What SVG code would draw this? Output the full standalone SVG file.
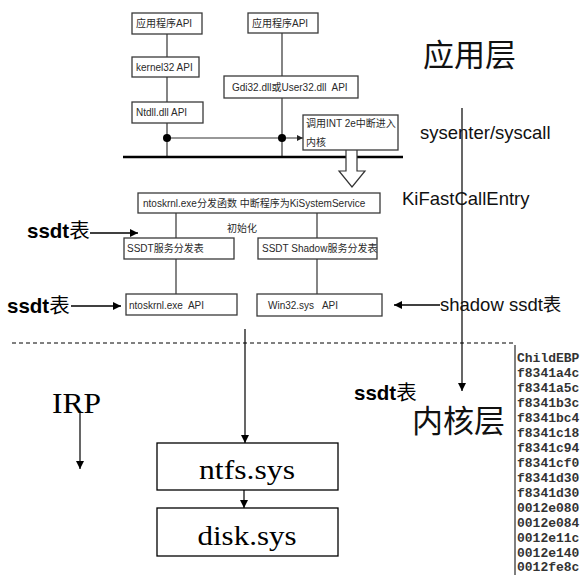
<svg xmlns="http://www.w3.org/2000/svg" width="583" height="575" viewBox="0 0 583 575">
<defs>
<marker id="ah" viewBox="0 0 10 10" refX="10" refY="5" markerWidth="8" markerHeight="8" markerUnits="userSpaceOnUse" orient="auto"><path d="M0,0 L10,5 L0,10 z" fill="#000"/></marker>
<marker id="ahs" viewBox="0 0 10 10" refX="10" refY="5" markerWidth="6" markerHeight="6" markerUnits="userSpaceOnUse" orient="auto"><path d="M0,0 L10,5 L0,10 z" fill="#222"/></marker>
</defs>
<style>
.bx{fill:#fff;stroke:#3a3a3a;stroke-width:1.3}
.st{font-family:"Liberation Sans","Noto Sans CJK SC",sans-serif;font-size:10px;fill:#2a2a2a}
.ln{stroke:#333;stroke-width:1.2;fill:none}
.big{font-family:"Noto Sans CJK SC",sans-serif;font-size:31px;fill:#111}
.lab{font-family:"Liberation Sans","Noto Sans CJK SC",sans-serif;font-size:18.5px;fill:#111}
.bold{font-family:"Liberation Sans","Noto Sans CJK SC",sans-serif;font-size:20.5px;font-weight:bold;fill:#000}
.nb{font-weight:normal}
.ser{font-family:"Liberation Serif",serif;fill:#000}
.mono{font-family:"Liberation Mono",monospace;font-size:13px;font-weight:bold;fill:#333}
</style>
<rect width="583" height="575" fill="#fff"/>

<g id="connectors">
<line class="ln" x1="167" y1="34" x2="167" y2="57"/>
<line class="ln" x1="167" y1="77" x2="167" y2="102"/>
<line class="ln" x1="167" y1="123" x2="167" y2="157"/>
<line class="ln" x1="282" y1="33" x2="282" y2="76"/>
<line class="ln" x1="282" y1="98" x2="282" y2="157"/>
<line class="ln" x1="167" y1="138" x2="303" y2="138" marker-end="url(#ahs)"/>
<circle cx="167" cy="138" r="4" fill="#000"/>
<circle cx="282" cy="138" r="4" fill="#000"/>
<line x1="123" y1="157" x2="403" y2="157" stroke="#000" stroke-width="2.5"/>
<path d="M346,150 L346,171 L339,171 L352,187 L365,171 L357,171 L357,150" fill="#fff" stroke="#333" stroke-width="1.2"/>
<line class="ln" x1="176" y1="213" x2="176" y2="238"/>
<line class="ln" x1="317" y1="213" x2="317" y2="238"/>
<line class="ln" x1="176" y1="259" x2="176" y2="294"/>
<line class="ln" x1="317" y1="259" x2="317" y2="294"/>
<line x1="90" y1="233" x2="138" y2="233" stroke="#000" stroke-width="1.3" marker-end="url(#ah)"/>
<line x1="71" y1="306" x2="121" y2="306" stroke="#000" stroke-width="1.3" marker-end="url(#ah)"/>
<line x1="440" y1="305" x2="394" y2="305" stroke="#000" stroke-width="1.3" marker-end="url(#ah)"/>
<line x1="462" y1="108" x2="462" y2="391" stroke="#000" stroke-width="1.2" marker-end="url(#ah)"/>
<line x1="12" y1="343" x2="515" y2="343" stroke="#000" stroke-width="1" stroke-dasharray="4,3"/>
<line x1="245" y1="329" x2="245" y2="443" stroke="#000" stroke-width="1.2" marker-end="url(#ah)"/>
<line x1="244" y1="490" x2="244" y2="508" stroke="#000" stroke-width="1.2" marker-end="url(#ah)"/>
<line x1="80" y1="412" x2="80" y2="469" stroke="#000" stroke-width="1.2" marker-end="url(#ah)"/>
</g>

<g id="app-api-1"><rect class="bx" x="132" y="13" width="70" height="21"/><text class="st" x="136" y="27">应用程序API</text></g>
<g id="kernel32"><rect class="bx" x="132" y="57" width="67" height="20"/><text class="st" x="136" y="71">kernel32 API</text></g>
<g id="ntdll"><rect class="bx" x="132" y="102" width="71" height="21"/><text class="st" x="136" y="116">Ntdll.dll API</text></g>
<g id="app-api-2"><rect class="bx" x="248" y="13" width="70" height="20"/><text class="st" x="252" y="27">应用程序API</text></g>
<g id="gdi32"><rect class="bx" x="224" y="76" width="134" height="22"/><text class="st" x="232" y="91" xml:space="preserve">Gdi32.dll或User32.dll  API</text></g>
<g id="int2e"><rect class="bx" x="303" y="115" width="95" height="35"/><text class="st" x="306" y="127">调用INT 2e中断进入</text><text class="st" x="306" y="146">内核</text></g>
<g id="ntoskrnl-dispatch"><rect class="bx" x="138" y="193" width="242" height="20"/><text class="st" x="143" y="207">ntoskrnl.exe分发函数 中断程序为KiSystemService</text></g>
<text class="st" x="242" y="232" text-anchor="middle" font-size="9">初始化</text>
<g id="ssdt"><rect class="bx" x="124" y="238" width="110" height="21"/><text class="st" x="127" y="252">SSDT服务分发表</text></g>
<g id="ssdt-shadow"><rect class="bx" x="258" y="238" width="119" height="21"/><text class="st" x="262" y="252">SSDT Shadow服务分发表</text></g>
<g id="ntoskrnl-api"><rect class="bx" x="126" y="294" width="111" height="21"/><text class="st" x="129" y="309" font-size="9.5" xml:space="preserve">ntoskrnl.exe  API</text></g>
<g id="win32"><rect class="bx" x="257" y="294" width="125" height="22"/><text class="st" x="268" y="309" font-size="9.5" xml:space="preserve">Win32.sys   API</text></g>
<g id="ntfs"><rect x="157" y="443" width="181" height="47" fill="#fff" stroke="#000" stroke-width="1.3"/><text class="ser" x="247" y="479" font-size="27" text-anchor="middle" textLength="96" lengthAdjust="spacingAndGlyphs">ntfs.sys</text></g>
<g id="disk"><rect x="157" y="508" width="181" height="48" fill="#fff" stroke="#000" stroke-width="1.3"/><text class="ser" x="247" y="545" font-size="27" text-anchor="middle" textLength="99" lengthAdjust="spacingAndGlyphs">disk.sys</text></g>

<text class="big" x="423" y="66">应用层</text>
<text class="big" x="412" y="432">内核层</text>
<text class="lab" x="420" y="139">sysenter/syscall</text>
<text class="lab" x="402" y="205">KiFastCallEntry</text>
<text class="lab" x="440" y="311">shadow ssdt表</text>
<text class="bold" x="27" y="238">ssdt<tspan class="nb">表</tspan></text>
<text class="bold" x="7" y="313">ssdt<tspan class="nb">表</tspan></text>
<text class="bold" x="354" y="400">ssdt<tspan class="nb">表</tspan></text>
<text class="ser" x="52" y="413" font-size="30" textLength="49" lengthAdjust="spacingAndGlyphs">IRP</text>

<g id="stack-dump">
<line x1="515" y1="345" x2="515" y2="575" stroke="#555" stroke-width="1.5"/>
<text class="mono" x="517" y="362">ChildEBP</text>
<text class="mono" x="517" y="377">f8341a4c</text>
<text class="mono" x="517" y="392">f8341a5c</text>
<text class="mono" x="517" y="407">f8341b3c</text>
<text class="mono" x="517" y="422">f8341bc4</text>
<text class="mono" x="517" y="437">f8341c18</text>
<text class="mono" x="517" y="452">f8341c94</text>
<text class="mono" x="517" y="467">f8341cf0</text>
<text class="mono" x="517" y="482">f8341d30</text>
<text class="mono" x="517" y="497">f8341d30</text>
<text class="mono" x="517" y="512">0012e080</text>
<text class="mono" x="517" y="527">0012e084</text>
<text class="mono" x="517" y="542">0012e11c</text>
<text class="mono" x="517" y="557">0012e140</text>
<text class="mono" x="517" y="571">0012fe8c</text>
</g>
</svg>
